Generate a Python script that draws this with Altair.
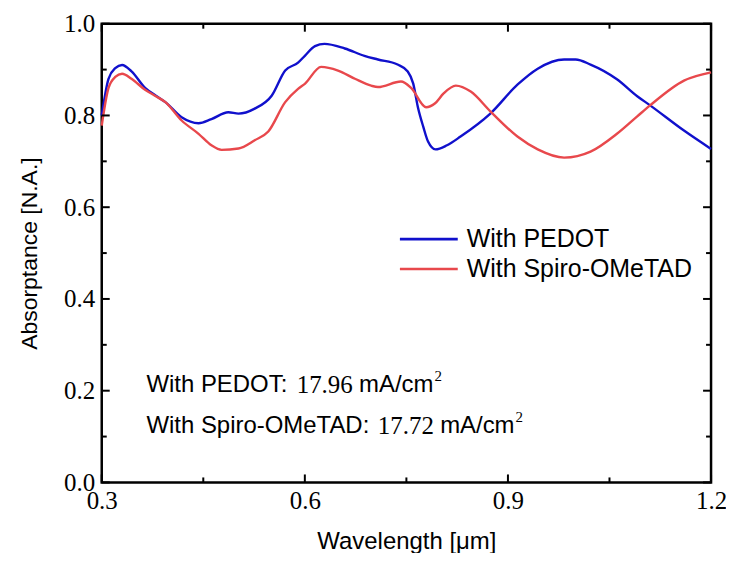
import altair as alt
import pandas as pd

# ---------------- data ----------------
pedot_wl = [0.300, 0.310, 0.320, 0.330, 0.344, 0.364, 0.380, 0.394, 0.418, 0.443,
            0.462, 0.487, 0.502, 0.526, 0.551, 0.571, 0.590, 0.600, 0.615, 0.629,
            0.659, 0.688, 0.708, 0.737, 0.752, 0.760, 0.767, 0.775, 0.782, 0.793,
            0.810, 0.830, 0.874, 0.914, 0.944, 0.983, 1.000, 1.022, 1.061, 1.091,
            1.110, 1.160, 1.200]
pedot_abs = [0.800, 0.880, 0.903, 0.910, 0.896, 0.860, 0.843, 0.829, 0.796, 0.783,
             0.792, 0.807, 0.804, 0.815, 0.843, 0.898, 0.915, 0.930, 0.951, 0.956,
             0.946, 0.930, 0.922, 0.911, 0.896, 0.870, 0.818, 0.775, 0.743, 0.726,
             0.735, 0.754, 0.804, 0.867, 0.902, 0.922, 0.922, 0.911, 0.879, 0.842,
             0.822, 0.767, 0.727]

spiro_wl = [0.300, 0.310, 0.320, 0.330, 0.344, 0.364, 0.380, 0.394, 0.418, 0.443,
            0.462, 0.477, 0.502, 0.526, 0.546, 0.571, 0.590, 0.600, 0.624, 0.649,
            0.674, 0.698, 0.708, 0.742, 0.757, 0.779, 0.792, 0.805, 0.823, 0.845,
            0.874, 0.914, 0.944, 0.983, 1.022, 1.061, 1.091, 1.110, 1.160, 1.200]
spiro_abs = [0.778, 0.860, 0.884, 0.891, 0.880, 0.856, 0.842, 0.829, 0.789, 0.760,
             0.735, 0.725, 0.728, 0.746, 0.765, 0.829, 0.858, 0.869, 0.906, 0.898,
             0.880, 0.865, 0.862, 0.874, 0.860, 0.818, 0.826, 0.848, 0.865, 0.852,
             0.809, 0.754, 0.726, 0.708, 0.721, 0.760, 0.798, 0.822, 0.876, 0.894]

series_names = ["With PEDOT", "With Spiro-OMeTAD"]
series_colors = ["#1010CC", "#E8484C"]

x_major = [0.3, 0.6, 0.9, 1.2]
x_minor = [0.45, 0.75, 1.05]
y_major = [0.0, 0.2, 0.4, 0.6, 0.8, 1.0]
y_minor = [0.1, 0.3, 0.5, 0.7, 0.9]

ann_labels = ["With PEDOT:", "With Spiro-OMeTAD:"]
ann_values = ["17.96", "17.72"]
ann_unit = "mA/cm"
ann_sup = "2"
ann_x = 0.366
ann_y = [0.213, 0.122]

# ---------------- layout ----------------
W, H = 611, 460
PX_PER_UM = W / 0.9
SANS = "Liberation Sans"
SERIF = "Liberation Serif"
ANN_SANS = 24
ANN_SERIF = 25

df = pd.concat([
    pd.DataFrame({"wl": pedot_wl, "a": pedot_abs, "series": series_names[0]}),
    pd.DataFrame({"wl": spiro_wl, "a": spiro_abs, "series": series_names[1]}),
])

xscale = alt.Scale(domain=[0.3, 1.2], nice=False, zero=False)
yscale = alt.Scale(domain=[0.0, 1.0], nice=False, zero=False)

lines = alt.Chart(df).mark_line(strokeWidth=2.4, interpolate="monotone").encode(
    x=alt.X("wl:Q", scale=xscale,
            axis=alt.Axis(values=x_major, format=".1f", title="Wavelength [μm]",
                          ticks=False, domain=False, grid=False,
                          labelFont=SERIF, labelFontSize=25, labelPadding=6,
                          labelColor="black", labelFlush=False,
                          titleFont=SANS, titleFontSize=24, titleFontWeight="normal",
                          titleColor="black", titlePadding=16)),
    y=alt.Y("a:Q", scale=yscale,
            axis=alt.Axis(values=y_major, format=".1f", title="Absorptance [N.A.]",
                          ticks=False, domain=False, grid=False,
                          labelFont=SERIF, labelFontSize=25, labelPadding=7,
                          labelColor="black", labelFlush=False,
                          titleFont=SANS, titleFontSize=23, titleFontWeight="normal",
                          titleColor="black", titlePadding=22)),
    color=alt.Color("series:N",
                    scale=alt.Scale(domain=series_names, range=series_colors),
                    legend=alt.Legend(title=None, orient="none", legendX=312, legendY=200,
                                      symbolType="M-2,0H2", symbolSize=841,
                                      symbolStrokeWidth=2.6, labelFont=SANS,
                                      labelFontSize=25, labelColor="black",
                                      labelOffset=22, rowPadding=1, padding=0,
                                      labelLimit=400)),
)

# inward ticks on all four sides
xmaj = pd.DataFrame({"v": x_major})
xmin = pd.DataFrame({"v": x_minor})
ymaj = pd.DataFrame({"v": y_major})
ymin = pd.DataFrame({"v": y_minor})

def xticks(d, length):
    bottom = alt.Chart(d).mark_rule(color="black", strokeWidth=2).encode(
        x=alt.X("v:Q", scale=xscale), y=alt.value(H), y2=alt.value(H - length))
    top = alt.Chart(d).mark_rule(color="black", strokeWidth=2).encode(
        x=alt.X("v:Q", scale=xscale), y=alt.value(0), y2=alt.value(length))
    return bottom + top

def yticks(d, length):
    left = alt.Chart(d).mark_rule(color="black", strokeWidth=2).encode(
        y=alt.Y("v:Q", scale=yscale), x=alt.value(0), x2=alt.value(length))
    right = alt.Chart(d).mark_rule(color="black", strokeWidth=2).encode(
        y=alt.Y("v:Q", scale=yscale), x=alt.value(W), x2=alt.value(W - length))
    return left + right

# annotation text: sans label, serif number, sans unit, superscript
pref_w = [6.0 * ANN_SANS, 9.39 * ANN_SANS]
num_off = [p + 0.278 * ANN_SANS for p in pref_w]
unit_off = [n + 2.25 * ANN_SERIF + 0.25 * ANN_SERIF for n in num_off]
sup_off = [u + 3.11 * ANN_SANS + 1 for u in unit_off]
ann = pd.DataFrame({
    "y": ann_y,
    "label": ann_labels,
    "value": ann_values,
    "unit": [ann_unit] * 2,
    "sup": [ann_sup] * 2,
    "x0": [ann_x] * 2,
    "xn": [ann_x + o / PX_PER_UM for o in num_off],
    "xu": [ann_x + o / PX_PER_UM for o in unit_off],
    "xs": [ann_x + o / PX_PER_UM for o in sup_off],
})

def ann_layer(xfield, tfield, font, size, dy=0):
    return alt.Chart(ann).mark_text(align="left", baseline="middle", font=font,
                                    fontSize=size, color="black", dy=dy).encode(
        x=alt.X(f"{xfield}:Q", scale=xscale),
        y=alt.Y("y:Q", scale=yscale),
        text=f"{tfield}:N")

annotations = (ann_layer("x0", "label", SANS, ANN_SANS)
               + ann_layer("xn", "value", SERIF, ANN_SERIF)
               + ann_layer("xu", "unit", SANS, ANN_SANS)
               + ann_layer("xs", "sup", SERIF, 15, dy=-9))

chart = alt.layer(
    lines,
    xticks(xmaj, 8), xticks(xmin, 5),
    yticks(ymaj, 8), yticks(ymin, 5),
    annotations,
).properties(
    width=W, height=H,
    autosize=alt.AutoSizeParams(type="none"),
    padding={"left": 94, "top": 15, "right": 15, "bottom": 70},
    background="white",
).configure_view(stroke="black", strokeWidth=2.5)

chart.save("out.html", embed_options={"renderer": "svg", "actions": False})
